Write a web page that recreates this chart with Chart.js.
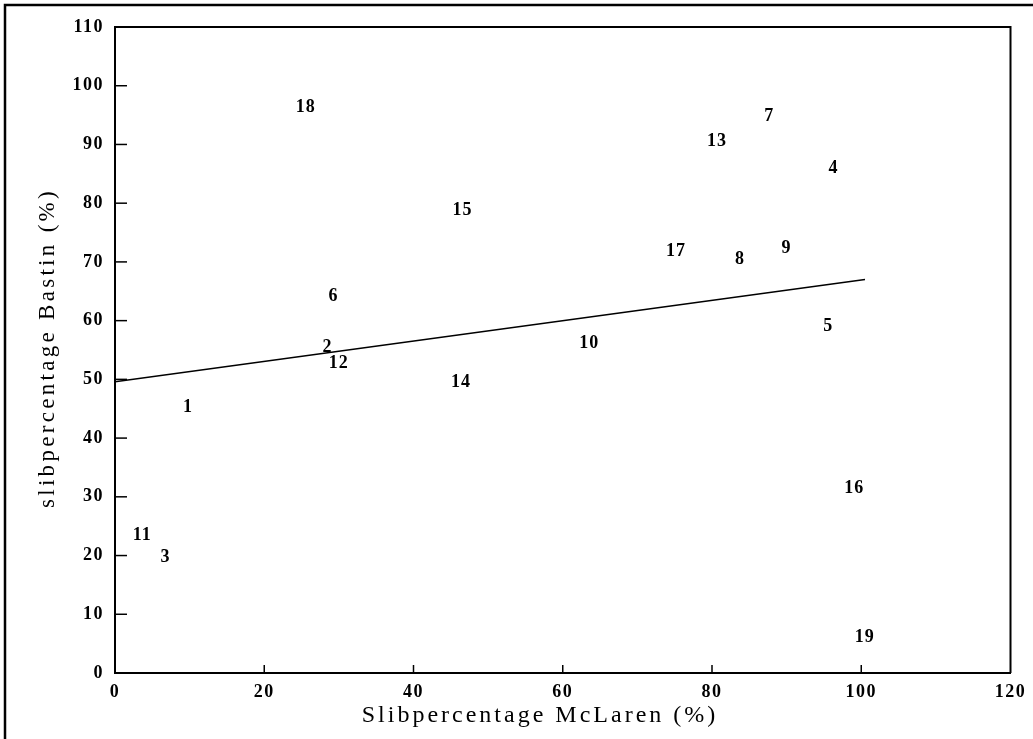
<!DOCTYPE html>
<html>
<head>
<meta charset="utf-8">
<script src="https://cdn.jsdelivr.net/npm/chart.js@4/dist/chart.umd.min.js"></script>
<style>
  html, body { margin: 0; padding: 0; background: #fff; }
  #wrap { width: 1033px; height: 739px; position: relative; }
</style>
</head>
<body>
<div id="wrap"><canvas id="chart"></canvas></div>
<script>
const pointLabels = ["1", "2", "3", "4", "5", "6", "7", "8", "9", "10", "11", "12", "13", "14", "15", "16", "17", "18", "19"];
const mclaren = [9.7, 28.4, 6.7, 96.2, 95.5, 29.2, 87.6, 83.7, 89.9, 63.5, 3.6, 29.9, 80.6, 46.3, 46.5, 99.0, 75.1, 25.5, 100.4];
const bastin = [45.3, 55.5, 19.7, 85.9, 59.1, 64.2, 94.8, 70.4, 72.3, 56.2, 23.4, 52.8, 90.6, 49.5, 78.7, 31.4, 71.8, 96.4, 6.1];

const fitX = [0, 100.5];
const fitY = [49.6, 67.0];

const xTicks = [0, 20, 40, 60, 80, 100, 120];
const yTicks = [0, 10, 20, 30, 40, 50, 60, 70, 80, 90, 100, 110];

const xTitle = "Slibpercentage McLaren (%)";
const yTitle = "slibpercentage Bastin (%)";

const serif = "'Liberation Serif', 'DejaVu Serif', serif";

const scatterPoints = mclaren.map((x, i) => ({ x: x, y: bastin[i] }));
const fitPoints = fitX.map((x, i) => ({ x: x, y: fitY[i] }));

const spacingPlugin = {
  id: "spacing",
  beforeDraw: (chart) => {
    chart.ctx.letterSpacing = "1.5px";
  },
  afterDraw: (chart) => {
    chart.ctx.letterSpacing = "0px";
  },
};

const decorPlugin = {
  id: "decor",
  afterDraw: (chart) => {
    const ctx = chart.ctx;
    const area = chart.chartArea;
    const xs = chart.scales.x;
    const ys = chart.scales.y;
    ctx.save();
    ctx.strokeStyle = "#000";

    // frame top + right
    ctx.lineWidth = 2;
    ctx.beginPath();
    ctx.moveTo(area.left, area.top);
    ctx.lineTo(area.right, area.top);
    ctx.lineTo(area.right, area.bottom);
    ctx.stroke();

    // inward ticks
    ctx.lineWidth = 1.5;
    yTicks.forEach((v) => {
      if (v === 0 || v === 110) return;
      const py = ys.getPixelForValue(v);
      ctx.beginPath();
      ctx.moveTo(area.left, py);
      ctx.lineTo(area.left + 12, py);
      ctx.stroke();
    });
    xTicks.forEach((v) => {
      if (v === 0 || v === 120) return;
      const px = xs.getPixelForValue(v);
      ctx.beginPath();
      ctx.moveTo(px, area.bottom);
      ctx.lineTo(px, area.bottom - 8);
      ctx.stroke();
    });

    // outer page border
    ctx.lineWidth = 2.5;
    ctx.beginPath();
    ctx.moveTo(5, 739);
    ctx.lineTo(5, 5);
    ctx.lineTo(1033, 5);
    ctx.stroke();

    // numbered point labels
    ctx.fillStyle = "#000";
    ctx.font = "bold 18px " + serif;
    ctx.letterSpacing = "1px";
    ctx.textAlign = "center";
    ctx.textBaseline = "middle";
    const meta = chart.getDatasetMeta(0);
    meta.data.forEach((el, i) => {
      ctx.fillText(pointLabels[i], el.x + 0.5, el.y);
    });

    // axis titles
    ctx.font = "24px " + serif;
    ctx.letterSpacing = "3px";
    ctx.textAlign = "center";
    ctx.textBaseline = "alphabetic";
    ctx.fillText(xTitle, 540, 722);

    ctx.font = "23px " + serif;
    ctx.letterSpacing = "3.3px";
    ctx.translate(54, (area.top + area.bottom) / 2 - 2);
    ctx.rotate(-Math.PI / 2);
    ctx.fillText(yTitle, 0, 0);
    ctx.restore();
  },
};

const chart = new Chart(document.getElementById("chart").getContext("2d"), {
  type: "scatter",
  data: {
    datasets: [
      {
        label: "sites",
        data: scatterPoints,
        pointRadius: 0,
        pointHoverRadius: 0,
        backgroundColor: "#000",
      },
      {
        label: "fit",
        type: "line",
        data: fitPoints,
        borderColor: "#000",
        borderWidth: 1.5,
        pointRadius: 0,
        fill: false,
      },
    ],
  },
  options: {
    responsive: true,
    maintainAspectRatio: false,
    animation: false,
    layout: { padding: { left: 0, top: 27, right: 19, bottom: 0 } },
    plugins: {
      legend: { display: false },
      tooltip: { enabled: false },
    },
    scales: {
      x: {
        type: "linear",
        min: 0,
        max: 120,
        afterBuildTicks: (scale) => {
          scale.ticks = xTicks.map((v) => ({ value: v }));
        },
        afterFit: (scale) => {
          scale.height = 66;
        },
        grid: { display: false, drawTicks: false },
        border: { display: true, color: "#000", width: 2 },
        ticks: {
          color: "#000",
          padding: 9,
          maxRotation: 0,
          font: { family: serif, size: 18, weight: "bold" },
        },
      },
      y: {
        type: "linear",
        min: 0,
        max: 110,
        afterBuildTicks: (scale) => {
          scale.ticks = yTicks.map((v) => ({ value: v }));
        },
        afterFit: (scale) => {
          scale.width = 115;
        },
        grid: { display: false, drawTicks: false },
        border: { display: true, color: "#000", width: 2 },
        ticks: {
          color: "#000",
          padding: 11,
          font: { family: serif, size: 18, weight: "bold" },
        },
      },
    },
  },
  plugins: [spacingPlugin, decorPlugin],
});
</script>
</body>
</html>
